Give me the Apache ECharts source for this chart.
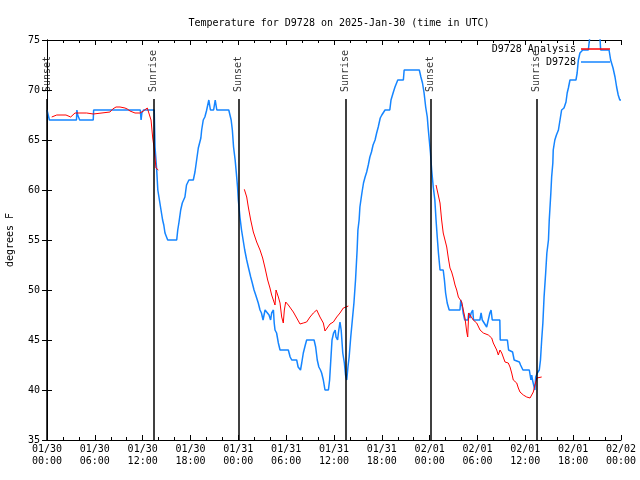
<!DOCTYPE html>
<html>
<head>
<meta charset="utf-8">
<script src="https://cdn.jsdelivr.net/npm/echarts@6/dist/echarts.min.js"></script>
<style>html,body{margin:0;padding:0;background:#fff}#c{width:640px;height:480px}</style>
</head>
<body>
<div id="c"></div>
<script>
// x = hours since 2025-01-30 00:00 UTC
const xTickLabels = ['01/30\n00:00','01/30\n06:00','01/30\n12:00','01/30\n18:00','01/31\n00:00','01/31\n06:00','01/31\n12:00','01/31\n18:00','02/01\n00:00','02/01\n06:00','02/01\n12:00','02/01\n18:00','02/02\n00:00'];
const sunLabels = ['Sunset','Sunrise','Sunset','Sunrise','Sunset','Sunrise'];
const sunHours = [0.0, 13.34, 24.0, 37.42, 48.09, 61.38];

const observed = [[0,68],[0.3,67],[3.7,67],[3.75,68],[3.85,67.5],[4.1,67],[5.8,67],[5.85,68],[11.7,68],[11.8,67],[11.9,67.7],[12.1,68],[13.45,68],[13.55,64.3],[13.76,62],[13.9,60],[14.1,59],[14.3,58],[14.5,57],[14.65,56.5],[14.8,55.7],[15.14,55],[16.27,55],[16.4,56],[16.56,56.8],[16.77,58],[16.97,58.7],[17.3,59.3],[17.5,60.5],[17.8,61],[18.35,61],[18.56,61.8],[18.77,63],[18.98,64.2],[19.3,65.2],[19.4,66],[19.6,67],[19.8,67.3],[20.0,67.9],[20.3,69],[20.5,68],[20.9,68],[21.1,69],[21.3,68],[22.8,68],[23.1,67],[23.25,66],[23.4,64.3],[23.6,63],[23.75,61.7],[23.9,60.3],[24.0,59],[24.2,57.3],[24.4,56],[24.6,55],[24.8,54],[25.05,53],[25.25,52.3],[25.55,51.3],[25.75,50.7],[25.97,50],[26.18,49.5],[26.3,49.2],[26.5,48.7],[26.72,48],[26.9,47.7],[27.1,47],[27.35,48],[27.6,48],[27.85,47.5],[28.05,47],[28.18,47.7],[28.4,48],[28.5,46.7],[28.6,46],[28.8,45.7],[29.02,44.7],[29.23,44],[30.27,44],[30.5,43.3],[30.7,43],[31.32,43],[31.5,42.3],[31.8,42],[31.95,42.7],[32.15,43.7],[32.4,44.5],[32.57,45],[33.5,45],[33.7,44.3],[33.9,43],[34.1,42.3],[34.3,42],[34.45,41.7],[34.66,41],[34.87,40],[35.3,40],[35.45,41],[35.6,43],[35.75,45],[35.95,45.7],[36.15,46],[36.25,45.3],[36.45,45],[36.55,45.7],[36.75,46.8],[36.9,46],[37.1,43.7],[37.3,42.7],[37.45,41.5],[37.6,41],[37.75,42.3],[37.9,43.3],[38.1,45.3],[38.3,47],[38.5,48.7],[38.7,51],[38.9,54],[39.0,56],[39.15,57],[39.25,58.3],[39.5,59.7],[39.7,60.7],[39.9,61.3],[40.1,61.8],[40.3,62.5],[40.5,63.3],[40.7,63.8],[40.9,64.5],[41.15,65],[41.35,65.7],[41.55,66.3],[41.8,67.2],[42.0,67.5],[42.4,68],[43.0,68],[43.15,69],[43.45,69.8],[43.65,70.3],[44.0,71],[44.7,71],[44.8,72],[46.7,72],[46.9,71.3],[47.1,70.7],[47.3,69.7],[47.5,68.3],[47.7,67.3],[47.8,66.3],[47.95,65],[48.1,63.7],[48.25,62],[48.45,60.3],[48.65,59],[48.8,57],[48.95,55.3],[49.1,53.7],[49.3,52],[49.7,52],[49.85,51],[50.0,49.7],[50.2,48.7],[50.45,48],[51.8,48],[51.9,49],[52.1,48.3],[52.2,47.7],[52.4,47],[52.8,47],[52.9,47.7],[53.05,47.2],[53.2,47.7],[53.4,48],[53.5,47],[54.3,47],[54.45,47.7],[54.6,47],[54.85,47],[55.15,46.3],[55.35,47],[55.55,47.7],[55.7,48],[55.85,47],[56.8,47],[56.85,45],[57.75,45],[57.9,44],[58.4,43.8],[58.6,43],[59.25,42.8],[59.4,42.5],[59.7,42],[60.5,42],[60.7,41],[60.8,41.5],[60.9,41],[61.1,40.3],[61.2,40],[61.3,41.3],[61.5,41.7],[61.75,42],[61.9,43],[62.05,45],[62.2,46.7],[62.35,49.3],[62.55,51.7],[62.7,53.7],[62.9,55],[63.0,57],[63.2,59.7],[63.3,61.3],[63.45,62.7],[63.5,64],[63.7,65],[63.9,65.5],[64.15,66],[64.35,66.2],[64.55,68],[64.85,68.2],[65.1,68.8],[65.25,69.7],[65.4,70.2],[65.6,71],[66.35,71],[66.5,71.7],[66.65,73],[66.85,73.7],[67.2,74],[67.9,74],[68.0,74.7],[68.2,76],[69.3,76],[69.45,74],[70.5,74],[70.7,73],[71.0,72.2],[71.25,71.3],[71.45,70.3],[71.65,69.5],[71.85,69],[72,69]];

const analysisNight1 = [[0.59,67.3],[1.22,67.5],[2.38,67.5],[2.47,67.3],[2.97,67.3],[3.22,67.5],[3.51,67.7],[4.98,67.7],[5.2,67.6],[5.81,67.6],[6.02,67.8],[7.9,67.8],[8.24,68.1],[8.66,68.3],[9.16,68.3],[9.78,68.2],[10.07,68.1],[10.41,67.9],[11.04,67.7],[11.66,67.7],[12.08,67.9],[12.58,68.2],[12.83,68.2],[13.05,67],[13.26,65.2],[13.42,64.3],[13.55,63.2],[13.67,62.2],[13.96,62]];
const analysisNight2 = [[24.75,60.07],[24.85,60],[25.05,59.3],[25.25,58.3],[25.55,57],[25.88,55.8],[26.3,54.8],[26.72,54],[27.05,53.2],[27.35,52.2],[27.68,51],[27.97,50.2],[28.18,49.5],[28.39,49],[28.6,48.5],[28.73,50],[28.89,50.2],[29.02,49.3],[29.23,48.7],[29.44,47.3],[29.64,46.7],[29.77,48],[29.94,48.8],[30.27,48.5],[30.9,47.8],[31.32,47.2],[31.74,46.6],[32.15,46.7],[32.57,46.8],[32.99,47.3],[33.41,47.7],[33.83,48],[34.24,47.3],[34.66,46.7],[34.87,45.9],[35.08,46.1],[35.5,46.6],[35.92,46.8],[36.34,47.3],[36.75,47.7],[37.17,48.2],[37.51,48.3],[37.8,48.4]];
const analysisNight3 = [[48.8,60.5],[49.0,60.5],[49.3,58.7],[49.5,57],[49.7,55.7],[49.85,55.6],[50.14,54.3],[50.34,53.2],[50.55,52.2],[50.76,51.8],[50.97,51.2],[51.18,50.5],[51.39,50],[51.6,49.3],[51.8,49.2],[52.02,48.8],[52.22,48],[52.43,47.2],[52.65,45.8],[52.77,45.3],[52.9,47.7],[53.15,47.5],[53.47,47],[53.9,46.7],[54.32,46],[54.73,45.7],[55.36,45.5],[55.78,45.2],[55.98,44.7],[56.41,44],[56.61,43.5],[56.82,44],[57.04,43.7],[57.45,42.8],[57.86,42.7],[58.08,42.3],[58.29,41.7],[58.49,41],[58.92,40.7],[59.12,40.2],[59.33,39.8],[59.75,39.5],[60.17,39.3],[60.59,39.2],[60.8,39.1],[61.0,39.8],[61.21,40.5],[61.43,41.2],[61.63,41.3],[62.05,41.3]];

const FONT = 'DejaVu Sans Mono';
const RED = '#ff0000';
const BLUE = '#1585ff';
const sunLineTop = 69.1;
const sunLabelAt = 69.8;

const chart = echarts.init(document.getElementById('c'), null, {renderer: 'canvas'});

function xAx(pos, showLabel) {
  return {
    type: 'value', min: 0, max: 72, interval: 6, position: pos,
    axisLine: {show: true, lineStyle: {color: '#000', width: 1}},
    axisTick: {show: true, inside: true, length: 5, lineStyle: {color: '#000'}},
    minorTick: {show: true, splitNumber: 3, length: 3, lineStyle: {color: '#000'}},
    splitLine: {show: false},
    axisLabel: {show: showLabel, fontFamily: FONT, fontSize: 10, color: '#000', margin: 3, lineHeight: 12,
      formatter: v => xTickLabels[Math.round(v / 6)] || ''}
  };
}
function yAx(pos, showLabel) {
  const a = {
    type: 'value', min: 35, max: 75, interval: 5, position: pos,
    axisLine: {show: true, lineStyle: {color: '#000', width: 1}},
    axisTick: {show: true, inside: true, length: 5, lineStyle: {color: '#000'}},
    splitLine: {show: false},
    axisLabel: {show: showLabel, fontFamily: FONT, fontSize: 10, color: '#000', margin: 7}
  };
  if (showLabel) {
    a.name = 'degrees F';
    a.nameLocation = 'middle';
    a.nameGap = 32;
    a.nameRotate = 90;
    a.nameTextStyle = {fontFamily: FONT, fontSize: 10, color: '#000'};
  }
  return a;
}

function redSeries(d) {
  return {
    name: 'D9728 Analysis', type: 'line', data: d, symbol: 'none', showSymbol: false,
    lineStyle: {color: RED, width: 1}, itemStyle: {color: RED}, z: 4, clip: true
  };
}

chart.setOption({
  animation: false,
  backgroundColor: '#fff',
  title: {
    text: 'Temperature for D9728 on 2025-Jan-30 (time in UTC)',
    left: 334, textAlign: 'center', top: 13,
    textStyle: {fontFamily: FONT, fontSize: 10, fontWeight: 'normal', color: '#000'}
  },
  grid: {left: 47, right: 19, top: 40, bottom: 40, outerBoundsMode: 'none'},
  legend: {
    data: [
      {name: 'D9728 Analysis', icon: 'rect', itemStyle: {color: RED}},
      {name: 'D9728', icon: 'rect', itemStyle: {color: BLUE}}
    ],
    orient: 'vertical', align: 'right', right: 30, top: 44, padding: 0,
    itemWidth: 29, itemHeight: 1.5, itemGap: 3,
    textStyle: {fontFamily: FONT, fontSize: 10, color: '#000', lineHeight: 10},
    selectedMode: false
  },
  xAxis: [xAx('bottom', true), xAx('top', false)],
  yAxis: [yAx('left', true), yAx('right', false)],
  series: [
    {
      name: 'D9728', type: 'line', data: observed, symbol: 'none', showSymbol: false,
      lineStyle: {color: BLUE, width: 1.5}, itemStyle: {color: BLUE}, z: 3, clip: true
    },
    redSeries(analysisNight1),
    redSeries(analysisNight2),
    redSeries(analysisNight3),
    {
      name: 'sun', type: 'scatter', symbolSize: 0, silent: true, z: 5,
      data: sunHours.map((h, i) => [h, sunLabelAt, sunLabels[i]]),
      label: {
        show: true, position: 'inside', rotate: 90, align: 'left', verticalAlign: 'middle',
        formatter: p => p.value[2], fontFamily: FONT, fontSize: 10, color: '#000'
      },
      markLine: {
        silent: true, symbol: 'none', animation: false,
        label: {show: false},
        lineStyle: {color: '#000', width: 1.5, type: 'solid'},
        data: sunHours.map(h => [{coord: [h, sunLineTop]}, {coord: [h, 35]}])
      }
    }
  ]
});
</script>
</body>
</html>
